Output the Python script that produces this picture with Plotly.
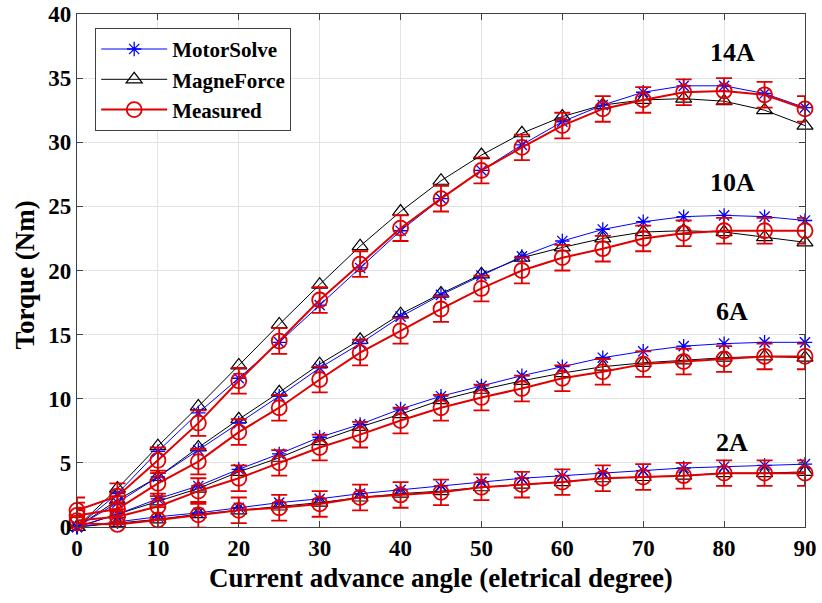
import plotly.graph_objects as go

angles = [0, 5, 10, 15, 20, 25, 30, 35, 40, 45, 50, 55, 60, 65, 70, 75, 80, 85, 90]
currents = ["14A", "10A", "6A", "2A"]

motorsolve = {
    "14A": [0, 2.6, 5.9, 8.9, 11.6, 14.4, 17.3, 20.2, 23.1, 25.6, 27.8, 29.8, 31.6, 32.9, 33.9, 34.4, 34.4, 33.8, 32.7],
    "10A": [0, 1.9, 3.9, 6.0, 8.1, 10.2, 12.4, 14.3, 16.4, 18.1, 19.6, 21.1, 22.3, 23.2, 23.8, 24.2, 24.3, 24.2, 23.9],
    "6A":  [0, 1.0, 2.2, 3.2, 4.5, 5.7, 7.0, 8.0, 9.2, 10.2, 11.0, 11.8, 12.5, 13.2, 13.7, 14.1, 14.3, 14.4, 14.4],
    "2A":  [0, 0.4, 0.8, 1.1, 1.5, 1.9, 2.2, 2.6, 2.9, 3.2, 3.5, 3.8, 4.0, 4.2, 4.4, 4.6, 4.7, 4.8, 4.9],
}
magneforce = {
    "14A": [0, 3.0, 6.3, 9.4, 12.6, 15.8, 18.9, 21.9, 24.6, 27.0, 29.0, 30.7, 32.0, 32.9, 33.3, 33.4, 33.2, 32.5, 31.3],
    "10A": [0, 2.1, 3.9, 6.2, 8.4, 10.5, 12.7, 14.6, 16.6, 18.2, 19.7, 21.0, 21.8, 22.5, 23.0, 23.1, 23.0, 22.6, 22.2],
    "6A":  [0, 1.0, 2.0, 3.0, 4.3, 5.4, 6.7, 7.8, 8.8, 9.9, 10.7, 11.4, 12.0, 12.5, 12.8, 13.0, 13.2, 13.3, 13.2],
    "2A":  [0, 0.3, 0.6, 1.0, 1.3, 1.6, 1.9, 2.3, 2.6, 2.8, 3.1, 3.3, 3.5, 3.8, 3.9, 4.0, 4.2, 4.2, 4.3],
}
measured = {
    "14A": [1.3, 2.4, 5.2, 8.1, 11.4, 14.5, 17.7, 20.5, 23.3, 25.6, 27.8, 29.6, 31.3, 32.6, 33.3, 33.9, 34.0, 33.7, 32.6],
    "10A": [0.9, 1.4, 3.4, 5.1, 7.4, 9.3, 11.5, 13.6, 15.3, 17.0, 18.6, 20.0, 21.0, 21.7, 22.5, 22.9, 23.1, 23.1, 23.1],
    "6A":  [0.5, 0.8, 1.6, 2.8, 3.8, 5.0, 6.2, 7.2, 8.3, 9.3, 10.1, 10.8, 11.6, 12.1, 12.7, 12.9, 13.1, 13.3, 13.3],
    "2A":  [0.3, 0.2, 0.55, 0.95, 1.3, 1.5, 1.8, 2.3, 2.5, 2.7, 3.1, 3.3, 3.5, 3.8, 3.9, 4.0, 4.2, 4.2, 4.2],
}
measured_error = 1.0

label_x = 81
label_y = {"14A": 37.0, "10A": 26.9, "6A": 16.8, "2A": 6.6}

x_title = "Current advance angle (eletrical degree)"
y_title = "Torque (Nm)"

FONT = "Liberation Serif"

fig = go.Figure()

for i, c in enumerate(currents):
    fig.add_trace(go.Scatter(
        x=angles, y=magneforce[c], mode="lines+markers", name="MagneForce",
        legendgroup="mf", showlegend=(i == 0), legendrank=2,
        line=dict(color="black", width=1),
        marker=dict(symbol="triangle-up-open", size=14, color="black", line=dict(width=1.2)),
        cliponaxis=False,
    ))
for i, c in enumerate(currents):
    fig.add_trace(go.Scatter(
        x=angles, y=motorsolve[c], mode="lines+markers", name="MotorSolve",
        legendgroup="ms", showlegend=(i == 0), legendrank=1,
        line=dict(color="#0000ff", width=1),
        marker=dict(symbol="asterisk-open", size=12, color="#0000ff", line=dict(width=1.3, color="#0000ff")),
        cliponaxis=False,
    ))
for i, c in enumerate(currents):
    fig.add_trace(go.Scatter(
        x=angles, y=measured[c], mode="lines+markers", name="Measured",
        legendgroup="me", showlegend=(i == 0), legendrank=3,
        line=dict(color="#e00000", width=2),
        marker=dict(symbol="circle-open", size=15, color="#e00000", line=dict(width=1.8)),
        error_y=dict(type="constant", value=measured_error, color="#e00000", thickness=1.8, width=8),
        cliponaxis=False,
    ))

for c in currents:
    fig.add_annotation(x=label_x, y=label_y[c], text=f"<b>{c}</b>", showarrow=False,
                       font=dict(family=FONT, size=26, color="black"), xanchor="center", yanchor="middle")

# axis titles placed as paper annotations for precise positioning
fig.add_annotation(xref="paper", yref="paper", x=0.5, y=-0.099, text=f"<b>{x_title}</b>",
                   showarrow=False, xanchor="center", yanchor="middle",
                   font=dict(family=FONT, size=27, color="black"))
fig.add_annotation(xref="paper", yref="paper", x=-0.071, y=0.491, text=f"<b>{y_title}</b>",
                   showarrow=False, xanchor="center", yanchor="middle", textangle=-90,
                   font=dict(family=FONT, size=27, color="black"))

axis_common = dict(
    showgrid=True, gridcolor="#e3e3e3", gridwidth=1,
    showline=True, linecolor="#404040", linewidth=1.2, mirror="ticks",
    ticks="inside", ticklen=6, tickcolor="#404040",
    tickfont=dict(family=FONT, size=23, color="black", weight="bold"),
    zeroline=False, automargin=False,
)

fig.update_xaxes(range=[0, 90], dtick=10, tick0=0, **axis_common)
fig.update_yaxes(range=[0, 40], dtick=5, tick0=0, **axis_common)

fig.update_layout(
    width=822, height=603,
    margin=dict(l=77, r=17, t=14, b=76),
    paper_bgcolor="white", plot_bgcolor="white",
    font=dict(family=FONT),
    legend=dict(x=0.025, y=0.973, xanchor="left", yanchor="top",
                bgcolor="white", bordercolor="#404040", borderwidth=1,
                font=dict(family=FONT, size=21, color="black", weight="bold"),
                itemwidth=66, tracegroupgap=0),
)

fig.write_html("out.html")
